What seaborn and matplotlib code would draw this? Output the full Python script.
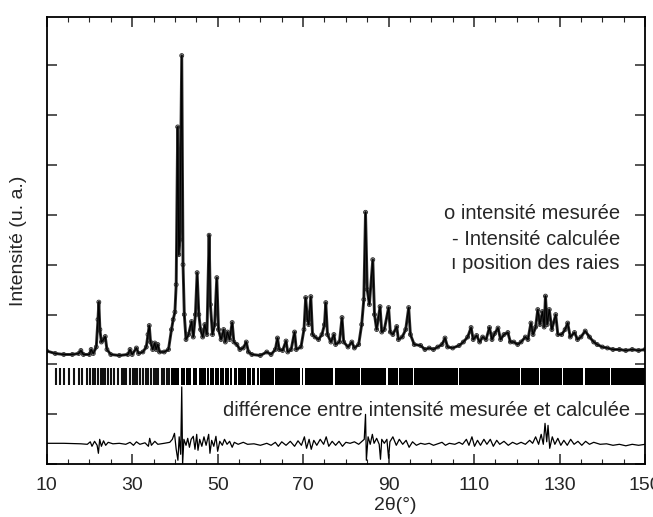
import matplotlib
matplotlib.use("Agg")
import matplotlib.pyplot as plt
from matplotlib.ticker import MultipleLocator, NullFormatter
import pandas as pd
import seaborn as sns

# measured / calculated pattern read off the picture
# (2theta in degrees, intensity in units of one y tick)
obs_x = [10.0, 12.0, 14.0, 16.0, 17.5, 18.0, 18.6, 20.0, 20.4, 20.9, 21.6, 22.0, 22.2, 22.45,
         22.8, 23.3, 23.7, 24.1, 25.0, 27.0, 29.0, 29.5, 30.0, 31.0, 31.5, 32.5, 33.3, 33.7,
         34.0, 34.3, 34.8, 35.3, 35.6, 36.0, 36.4, 37.5, 38.5, 39.2, 39.6, 40.0, 40.3, 40.65,
         40.9, 41.15, 41.6, 41.9, 42.2, 42.6, 43.2, 43.9, 44.3, 44.8, 45.2, 45.6, 46.0, 46.5,
         47.0, 47.5, 48.0, 48.3, 48.8, 49.3, 49.8, 50.2, 50.8, 51.4, 51.8, 52.3, 52.8, 53.4,
         53.8, 54.5, 55.2, 56.0, 56.7, 57.2, 58.0, 60.0, 61.5, 62.5, 63.5, 64.0, 64.4, 65.2,
         66.0, 66.4, 67.2, 68.0, 68.4, 69.5, 70.2, 70.6, 71.0, 71.3, 71.8, 72.2, 72.8, 73.6,
         74.4, 75.0, 75.3, 75.7, 76.5, 77.2, 77.6, 78.5, 79.1, 79.5, 80.5, 81.4, 82.0, 83.0,
         83.7, 84.2, 84.6, 85.0, 85.5, 86.3, 86.7, 87.2, 88.0, 88.4, 89.0, 90.0, 90.4, 91.0,
         91.9, 92.3, 93.2, 94.0, 94.7, 95.1, 96.0, 97.5, 98.5, 99.5, 100.5, 101.5, 102.5, 103.2,
         103.8, 105.0, 106.5, 107.5, 108.5, 109.3, 109.8, 110.6, 111.3, 112.0, 112.8, 113.6,
         114.2, 114.8, 115.6, 116.2, 117.0, 117.9, 118.5, 119.3, 120.2, 121.0, 122.0, 122.6,
         123.3, 123.8, 124.4, 124.9, 125.4, 126.0, 126.4, 126.7, 127.1, 127.6, 128.2, 129.1,
         129.6, 130.5, 131.3, 131.9, 132.5, 133.5, 134.2, 135.0, 136.0, 137.0, 138.0, 138.8,
         140.0, 141.2, 142.5, 144.0, 145.5, 147.0, 148.5, 150.0]
obs_y = [2.27, 2.22, 2.20, 2.20, 2.22, 2.28, 2.20, 2.20, 2.30, 2.22, 2.35, 2.90, 3.25, 2.70,
         2.45, 2.50, 2.56, 2.30, 2.20, 2.18, 2.20, 2.30, 2.20, 2.33, 2.22, 2.25, 2.35, 2.60,
         2.78, 2.45, 2.30, 2.43, 2.30, 2.40, 2.25, 2.25, 2.30, 2.70, 2.90, 3.05, 3.60, 6.76,
         4.20, 4.50, 8.19, 4.00, 3.00, 2.50, 2.60, 2.86, 2.55, 3.00, 3.84, 3.00, 2.70, 2.55,
         2.80, 2.60, 4.59, 3.20, 2.60, 2.80, 3.74, 2.70, 2.50, 2.70, 2.45, 2.65, 2.50, 2.84,
         2.45, 2.40, 2.30, 2.33, 2.45, 2.25, 2.20, 2.18, 2.25, 2.20, 2.30, 2.53, 2.30, 2.28,
         2.47, 2.25, 2.30, 2.65, 2.30, 2.35, 2.70, 3.34, 2.90, 2.80, 3.36, 2.60, 2.55, 2.50,
         2.60, 2.80, 3.24, 2.60, 2.45, 2.60, 2.40, 2.45, 2.94, 2.45, 2.35, 2.45, 2.33, 2.40,
         2.80, 3.30, 5.05, 3.50, 3.20, 4.10, 3.00, 2.70, 3.16, 2.65, 2.70, 3.14, 2.65, 2.60,
         2.76, 2.50, 2.55, 2.70, 3.14, 2.60, 2.40, 2.38, 2.30, 2.33, 2.30, 2.35, 2.40, 2.53,
         2.35, 2.33, 2.38, 2.45, 2.55, 2.74, 2.50, 2.58, 2.45, 2.55, 2.50, 2.74,
         2.50, 2.62, 2.73, 2.50, 2.60, 2.64, 2.45, 2.45, 2.40, 2.45, 2.55, 2.50,
         2.83, 2.60, 2.75, 3.10, 2.80, 3.06, 2.75, 3.37, 2.80, 3.10, 2.70, 3.00,
         2.60, 2.60, 2.70, 2.83, 2.55, 2.64, 2.50, 2.55, 2.67, 2.55, 2.45, 2.40,
         2.35, 2.33, 2.30, 2.30, 2.28, 2.30, 2.28, 2.30]

# difference curve (measured - calculated), offset to ~0.4
diff_x = [10, 14, 18, 19.5, 20.2, 20.6, 21.2, 21.8, 22.1, 22.4, 22.8, 23.3, 23.8, 24.4, 25.5,
          27, 28.5, 29.5, 30.3, 31.0, 31.8, 33.0, 33.8, 34.1, 34.5, 35.3, 36.0, 37.5, 38.8,
          39.4, 39.9, 40.3, 40.7, 41.0, 41.35, 41.6, 41.8, 42.1, 42.6, 43.0, 43.4, 43.8, 44.3,
          44.7, 45.1, 45.4, 45.8, 46.3, 46.8, 47.3, 47.9, 48.2, 48.6, 49.1, 49.6, 50.0, 50.5,
          51.1, 51.6, 52.2, 52.8, 53.4, 53.9, 54.8, 56, 57, 58.5, 60, 61.5, 62.5, 63.5, 64.2,
          65, 66, 67, 68, 68.8, 69.6, 70.3, 70.8, 71.4, 71.9, 72.5, 73.2, 74, 74.8, 75.4, 76,
          76.8, 77.6, 78.4, 79.2, 80, 81, 82, 83, 83.8, 84.3, 84.6, 84.8, 85.2, 85.7, 86.2,
          86.6, 87.2, 87.8, 88.1, 88.4, 89, 89.6, 90.0, 90.3, 91, 91.8, 92.5, 93.3, 94.1, 94.8,
          95.6, 96.5, 97.5, 98.5, 99.5, 100.5, 101.5, 102.5, 103.3, 104.2, 105.5, 106.5, 107.3,
          108.2, 108.8, 109.5, 110.1, 110.8, 111.5, 112.3, 113.0, 113.8, 114.5, 115.3, 116.0,
          117, 118, 119, 120, 121, 122, 123, 123.7, 124.4, 125.1, 125.7, 126.2, 126.6, 127.0,
          127.3, 127.7, 128.3, 128.9, 129.6, 130.3, 131, 131.8, 132.6, 133.4, 134.3, 135.2,
          136.1, 137, 138, 139.5, 141, 142.5, 144, 145.5, 147, 148.5, 150]
diff_y = [0.42, 0.42, 0.41, 0.40, 0.45, 0.36, 0.46, 0.38, 0.22, 0.50, 0.36, 0.47, 0.38, 0.44, 0.41,
          0.42, 0.40, 0.44, 0.38, 0.45, 0.40, 0.43, 0.36, 0.52, 0.38, 0.46, 0.40, 0.42, 0.44,
          0.50, 0.62, 0.30, 0.08, 0.55, 0.20, 1.55, 0.00, 0.50, 0.38, 0.52, 0.34, 0.50, 0.56,
          0.30, 0.60, 0.28, 0.50, 0.36, 0.55, 0.38, 0.60, 0.22, 0.48, 0.36, 0.56, 0.26, 0.46,
          0.38, 0.50, 0.40, 0.46, 0.34, 0.44, 0.40, 0.44, 0.40, 0.41, 0.38, 0.42, 0.38, 0.44, 0.36,
          0.45, 0.38, 0.46, 0.36, 0.47, 0.38, 0.55, 0.32, 0.50, 0.30, 0.48, 0.38, 0.50, 0.40, 0.55, 0.36,
          0.46, 0.38, 0.46, 0.36, 0.44, 0.42, 0.45, 0.40, 0.46, 0.50, 1.00, 0.08, 0.55, 0.40, 0.60,
          0.42, 0.52, 0.40, 0.10, 0.50, 0.42, 0.50, 0.12, 0.45, 0.55, 0.38, 0.50, 0.40, 0.48, 0.34,
          0.45, 0.38, 0.42, 0.40, 0.42, 0.38, 0.41, 0.44, 0.38, 0.42, 0.40, 0.44, 0.40,
          0.50, 0.38, 0.55, 0.36, 0.48, 0.38, 0.50, 0.40, 0.50, 0.36, 0.48, 0.40,
          0.46, 0.38, 0.44, 0.40, 0.44, 0.40, 0.48, 0.42, 0.55, 0.40, 0.60, 0.40, 0.82, 0.45,
          0.78, 0.32, 0.55, 0.40, 0.52, 0.38, 0.48, 0.38, 0.50, 0.40, 0.46, 0.38,
          0.46, 0.40, 0.44, 0.40, 0.41, 0.38, 0.40, 0.37, 0.40, 0.38, 0.40]

# isolated Bragg reflection positions (low angle part of the marker row)
refl_pos = [12.1, 13.1, 14.0, 15.2, 16.4, 17.5, 18.3, 19.5, 20.2, 20.9, 21.4, 21.9, 22.6,
            23.2, 23.7, 24.3, 25.0, 25.8, 26.8, 27.6, 28.0, 28.6, 29.4, 30.2, 30.7, 31.2,
            31.9, 32.6, 33.3, 33.8, 34.4, 35.0, 35.6, 36.1, 36.9, 37.4, 38.1, 38.7]
# above ~39 deg the reflections merge into a solid band with thin gaps
dense_start, dense_end = 39.2, 150.0
gap_pos = [41.2, 42.5, 44.0, 45.4, 47.4, 48.1, 49.3, 50.5, 51.6, 52.8, 53.6, 54.7, 56.7,
           58.0, 59.0, 59.8, 63.3, 69.5, 70.2, 77.2, 83.4, 89.6, 92.3, 95.8, 106.3, 120.9,
           125.3, 130.7, 135.7, 141.9]

x_ticks = [10, 30, 50, 70, 90, 110, 130, 150]

obs = pd.DataFrame({"x": obs_x, "y": obs_y})
diff = pd.DataFrame({"x": diff_x, "y": diff_y})

sns.set_style("ticks")
plt.rcParams["font.family"] = ["Liberation Sans", "DejaVu Sans"]

fig = plt.figure(figsize=(6.53, 5.17), dpi=100)
ax = fig.add_axes([0.0715, 0.102, 0.9163, 0.8658])

# measured (thick, with open circles) and calculated (thin line)
sns.lineplot(data=obs, x="x", y="y", sort=False, estimator=None, color="#2e2e2e",
             lw=2.1, ax=ax)
sns.scatterplot(data=obs, x="x", y="y", marker="o", s=8, facecolor="none",
                edgecolor="#222222", linewidth=0.6, ax=ax)
sns.lineplot(data=obs, x="x", y="y", sort=False, estimator=None, color="black",
             lw=0.8, ax=ax)

# reflection markers
band_lo, band_h = 1.59, 0.34
ax.vlines(refl_pos, band_lo, band_lo + band_h, color="#111111", lw=1.5)
gap_w = 0.3
bounds = [dense_start - gap_w / 2] + gap_pos + [dense_end + gap_w / 2]
segs = [(bounds[i] + gap_w / 2, bounds[i + 1] - bounds[i] - gap_w)
        for i in range(len(bounds) - 1)]
ax.broken_barh(segs, (band_lo, band_h), facecolor="black", edgecolor="none")

# difference curve
sns.lineplot(data=diff, x="x", y="y", sort=False, estimator=None, color="black",
             lw=0.9, ax=ax)

ax.set_xlim(10, 149.3)
ax.set_ylim(0, 8.97)
ax.set_xticks(x_ticks)
ax.xaxis.set_minor_locator(MultipleLocator(5))
ax.yaxis.set_major_locator(MultipleLocator(1))
ax.yaxis.set_major_formatter(NullFormatter())
ax.tick_params(axis="x", which="both", direction="in", top=True, bottom=True,
               labelsize=14, pad=9)
ax.tick_params(axis="y", which="both", direction="in", left=True, right=True)
ax.tick_params(which="major", length=7, width=1.1)
ax.tick_params(which="minor", length=3.5, width=0.8)
for sp in ax.spines.values():
    sp.set_visible(True)
    sp.set_linewidth(1.3)
    sp.set_color("black")
ax.set_xlabel("")
ax.set_ylabel("")

fig.text(0.0276, 0.534, "Intensité (u. a.)", rotation=90, ha="center", va="center",
         fontsize=14)
fig.text(0.605, 0.023, "2θ(°)", ha="center", va="center", fontsize=14)

ax.text(0.958, 0.561, "o intensité mesurée", transform=ax.transAxes, ha="right",
        va="center", fontsize=14.5)
ax.text(0.958, 0.503, "- Intensité calculée", transform=ax.transAxes, ha="right",
        va="center", fontsize=14.5)
ax.text(0.958, 0.449, "ı position des raies", transform=ax.transAxes, ha="right",
        va="center", fontsize=14.5)
ax.text(0.635, 0.121, "différence entre intensité mesurée et calculée",
        transform=ax.transAxes, ha="center", va="center", fontsize=14.5)

fig.savefig("out.png", dpi=100)
